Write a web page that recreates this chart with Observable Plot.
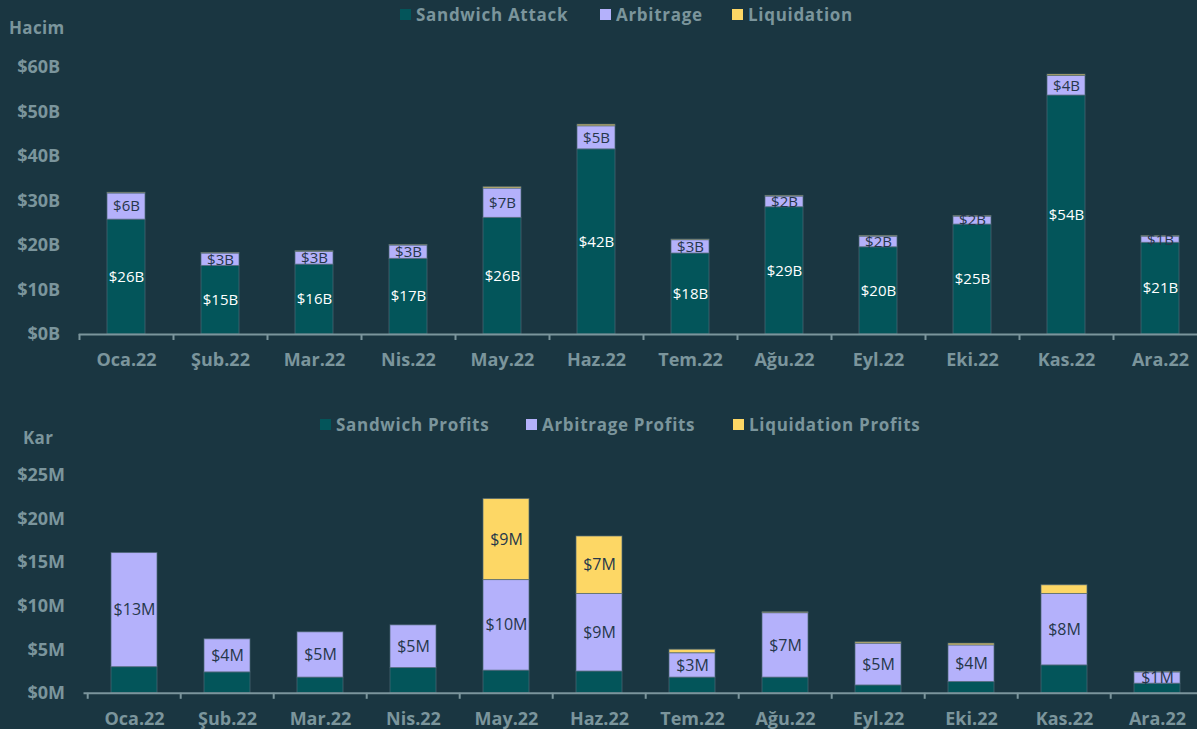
<!DOCTYPE html>
<html>
<head>
<meta charset="utf-8">
<script src="https://cdn.jsdelivr.net/npm/d3@7"></script>
<script src="https://cdn.jsdelivr.net/npm/@observablehq/plot@0.6"></script>
<style>
  html, body { margin: 0; padding: 0; background: #1a3641; }
  #wrap { position: relative; width: 1197px; height: 729px; overflow: hidden; background: #1a3641; font-family: "Open Sans", "Noto Sans", sans-serif; }
  .chart { position: absolute; left: 0; }
  .chart svg { background: transparent !important; overflow: visible; }
  .lg { position: absolute; display: flex; align-items: center; font-size: 17px; font-weight: 700; color: #7b959c; white-space: nowrap; letter-spacing: 0.7px; }
  .sw { display: inline-block; width: 11px; height: 11px; margin-right: 5px; }
  .ttl { position: absolute; font-size: 17px; font-weight: 700; color: #7b959c; letter-spacing: 0.3px; }
</style>
</head>
<body>
<div id="wrap">
  <div id="top" class="chart" style="top:0"></div>
  <div id="bottom" class="chart" style="top:360px"></div>
  <div id="legendTop"></div>
  <div id="legendBottom"></div>
  <div class="ttl" style="left:9px; top:16px;">Hacim</div>
  <div class="ttl" style="left:23px; top:426px;">Kar</div>
</div>
<script>
// ---- data ----
const months = ["Oca.22","Şub.22","Mar.22","Nis.22","May.22","Haz.22","Tem.22","Ağu.22","Eyl.22","Eki.22","Kas.22","Ara.22"];

// Volume (billions USD)
const volSeries = ["Sandwich Attack","Arbitrage","Liquidation"];
const volSandwich    = [25.8, 15.4, 15.7, 17.0, 26.2, 41.6, 18.2, 28.6, 19.6, 24.7, 53.7, 20.6];
const volArbitrage   = [5.9, 2.8, 2.9, 3.0, 6.6, 5.2, 3.0, 2.4, 2.4, 1.8, 4.4, 1.4];
const volLiquidation = [0.15, 0.1, 0.1, 0.1, 0.3, 0.35, 0.15, 0.15, 0.15, 0.1, 0.3, 0.1];
const volTicks = [0, 10, 20, 30, 40, 50, 60];

// Profits (millions USD)
const profSeries = ["Sandwich Profits","Arbitrage Profits","Liquidation Profits"];
const profSandwich    = [3.0, 2.4, 1.8, 2.9, 2.6, 2.5, 1.8, 1.8, 0.9, 1.3, 3.2, 1.1];
const profArbitrage   = [13.1, 3.8, 5.2, 4.9, 10.4, 8.9, 2.8, 7.4, 4.8, 4.2, 8.2, 1.3];
const profLiquidation = [0, 0, 0, 0, 9.3, 6.6, 0.4, 0.1, 0.15, 0.2, 1.0, 0.05];
const profTicks = [0, 5, 10, 15, 20, 25];

// ---- style ----
const colors = ["#03555a", "#b4b1fb", "#fdd765"];
const grey = "#7b959c";
const darkLabel = "#26374a";
const W = 1197;

function rowsOf(series, arrays) {
  const rows = [];
  series.forEach((s, si) => months.forEach((m, i) => rows.push({month: m, series: s, si, value: arrays[si][i]})));
  return rows;
}

function makeChart({series, arrays, ticks, unit, yRange, height, xRange, padIn, labelSize, showDark, tickPad}) {
  const rows = rowsOf(series, arrays);
  const step = (xRange[1] - xRange[0]) / months.length;
  const fmt = v => "$" + Math.round(v) + unit;
  return Plot.plot({
    width: W,
    height,
    marginLeft: xRange[0],
    marginRight: 0,
    marginTop: yRange[1],
    marginBottom: height - yRange[0],
    style: {background: "transparent", color: grey, fontFamily: "'Open Sans', 'Noto Sans', sans-serif"},
    x: {domain: months, range: xRange, paddingInner: padIn, paddingOuter: padIn / 2, label: null},
    y: {domain: [ticks[0], ticks[ticks.length - 1]], range: yRange, label: null},
    color: {domain: series, range: colors},
    marks: [
      Plot.barY(rows, {x: "month", y: "value", fill: "series", stroke: "#4d6675", strokeWidth: 1, strokeOpacity: 0.7}),
      Plot.text(rows, Plot.stackY({x: "month", y: "value", z: "series",
        text: d => d.si === 0 && showDark.white ? fmt(d.value) : "",
        fill: "white", fontSize: labelSize, fontFamily: "'Open Sans', sans-serif"})),
      Plot.text(rows, Plot.stackY({x: "month", y: "value", z: "series",
        text: d => showDark.test(d) ? fmt(d.value) : "",
        fill: darkLabel, fontSize: labelSize, fontFamily: "'Open Sans', sans-serif"})),
      Plot.ruleY([0], {stroke: grey, strokeWidth: 2}),
      Plot.axisX({tickSize: 6, tickFormat: () => "", dx: -step / 2, stroke: grey, strokeWidth: 2, label: null}),
      Plot.axisX({tickSize: 0, tickPadding: tickPad, fontSize: 18, fontWeight: "bold", fill: grey, label: null, style: {letterSpacing: "0.3px"}}),
      Plot.axisY({ticks, tickSize: 0, tickPadding: 19, tickFormat: d => "$" + d + unit, fontSize: 18, fontWeight: "bold", fill: grey, label: null})
    ]
  });
}

document.getElementById("top").append(makeChart({
  series: volSeries,
  arrays: [volSandwich, volArbitrage, volLiquidation],
  ticks: volTicks, unit: "B",
  yRange: [334, 67], height: 372,
  xRange: [78.7, 1206.7], padIn: 0.6, labelSize: 15, tickPad: 19,
  showDark: {white: true, test: d => d.si === 1}
}));

document.getElementById("bottom").append(makeChart({
  series: profSeries,
  arrays: [profSandwich, profArbitrage, profLiquidation],
  ticks: profTicks, unit: "M",
  yRange: [332.8, 115], height: 369,
  xRange: [83.5, 1206.7], padIn: 0.51, labelSize: 16, tickPad: 19,
  showDark: {white: false, test: d => d.si === 1 || (d.si === 2 && d.value >= 2)}
}));

function legend(id, series, lefts, top) {
  const el = document.getElementById(id);
  series.forEach((s, i) => {
    const item = document.createElement("div");
    item.className = "lg";
    item.style.left = lefts[i] + "px";
    item.style.top = top + "px";
    item.innerHTML = `<span class="sw" style="background:${colors[i]}"></span><span>${s}</span>`;
    el.append(item);
  });
}
legend("legendTop", volSeries, [400, 600, 732], 3);
legend("legendBottom", profSeries, [320, 526, 733], 413);
</script>
</body>
</html>
